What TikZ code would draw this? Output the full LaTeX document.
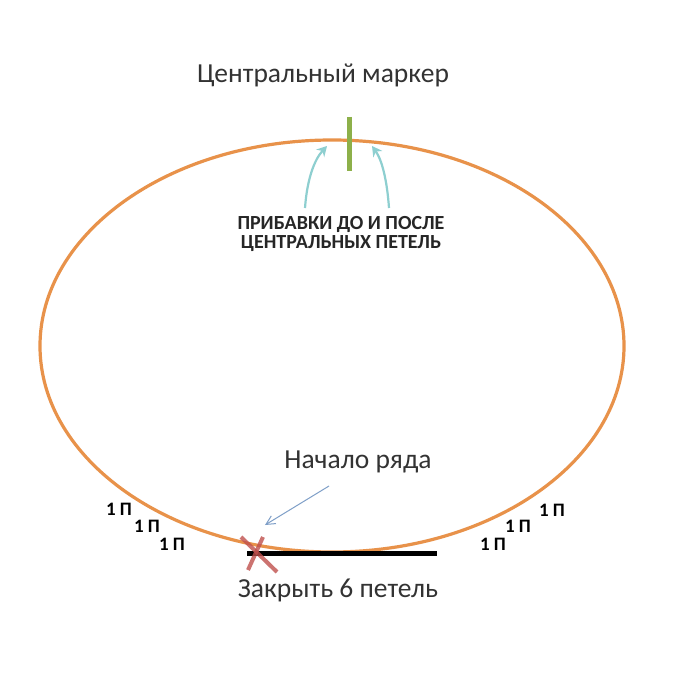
\documentclass[tikz,border=0pt]{standalone}
\usepackage{fontspec}
\setmainfont{Carlito}
\usetikzlibrary{arrows.meta,calc}
\definecolor{orng}{HTML}{E8924A}
\definecolor{mgreen}{HTML}{8DB04A}
\definecolor{teal1}{HTML}{8ECFD0}
\definecolor{bluea}{HTML}{7F9FC8}
\definecolor{redx}{HTML}{C0504D}
\tikzset{
  lbl/.style={font=\fontsize{27.5}{30}\selectfont, text=black!80},
  captxt/.style={font=\bfseries\fontsize{20}{18.5}\selectfont, text=black!85},
  onep/.style={font=\bfseries\fontsize{19}{20}\selectfont},
  tealarrow/.style={teal1, line width=2.2pt, -{Stealth[length=10pt,width=11pt]}},
}
\begin{document}
\begin{tikzpicture}[x=1pt,y=-1pt]
\useasboundingbox (0,0) rectangle (690,690);
\fill[white] (0,0) rectangle (690,690);
\draw[orng, line width=3.2pt] (332,346) ellipse [x radius=292, y radius=206];
\draw[mgreen, line width=5pt] (349,117) -- (349,171);
\node[lbl] (cm) at (323,75) {Центральный маркер};
\node[captxt, align=center] (adds) at (341,234) {ПРИБАВКИ ДО И ПОСЛЕ\\ЦЕНТРАЛЬНЫХ ПЕТЕЛЬ};
\coordinate (lt) at (305,208);
\coordinate (lh) at (327,146);
\coordinate (rt) at (389,208);
\coordinate (rh) at (372,146);
\draw[tealarrow] (lt) .. controls (307,180) and (314,160) .. (lh);
\draw[tealarrow] (rt) .. controls (387,180) and (382,160) .. (rh);
\draw[black, line width=5pt] (247,553) -- (437,553);
\draw[redx, opacity=0.8, line width=4pt] (241,537) -- (277,572);
\draw[redx, opacity=0.8, line width=4pt] (263,537) -- (248,570);
\node[lbl] (start) at (358,462) {Начало ряда};
\coordinate (bs) at (329,486);
\coordinate (be) at (265,525);
\draw[bluea, line width=1pt, -{Straight Barb[length=9pt,width=9pt]}] (bs) -- (be);
\node[lbl] (close) at (338,590) {Закрыть 6 петель};
\node[onep] (l1) at (119,509) {1 П};
\node[onep] (l2) at (147,526) {1 П};
\node[onep] (l3) at (172,544) {1 П};
\node[onep] (r1) at (493,544) {1 П};
\node[onep] (r2) at (518,526) {1 П};
\node[onep] (r3) at (552,510) {1 П};
\end{tikzpicture}
\end{document}
